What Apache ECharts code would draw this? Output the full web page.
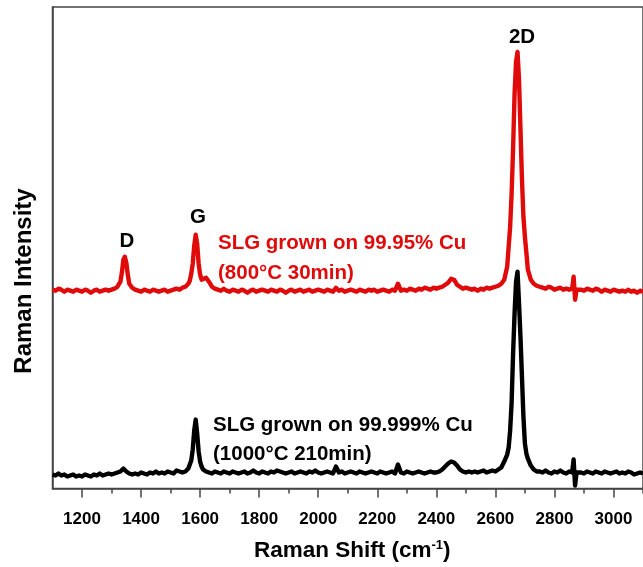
<!DOCTYPE html>
<html>
<head>
<meta charset="utf-8">
<script src="https://cdn.jsdelivr.net/npm/echarts@6/dist/echarts.min.js"></script>
<style>
  html, body { margin: 0; padding: 0; background: #fff; }
  #chart { width: 643px; height: 567px; }
</style>
</head>
<body>
<div id="chart"></div>
<script>
// Raman shift sampling points (cm^-1)
const shift = [
  1100, 1110, 1120, 1130, 1140, 1150, 1160, 1170, 1180, 1190,
  1200, 1210, 1220, 1230, 1240, 1250, 1260, 1270, 1280, 1290,
  1300, 1310, 1320, 1330, 1335, 1340, 1345, 1350, 1355, 1360,
  1370, 1380, 1390, 1400, 1410, 1420, 1430, 1440, 1450, 1460,
  1470, 1480, 1490, 1500, 1510, 1520, 1530, 1540, 1550, 1560,
  1565, 1570, 1575, 1580, 1585, 1590, 1595, 1600, 1605, 1610,
  1620, 1630, 1640, 1650, 1660, 1670, 1680, 1690, 1700, 1710,
  1720, 1730, 1740, 1750, 1760, 1770, 1780, 1790, 1800, 1810,
  1820, 1830, 1840, 1850, 1860, 1870, 1880, 1890, 1900, 1910,
  1920, 1930, 1940, 1950, 1960, 1970, 1980, 1990, 2000, 2010,
  2020, 2030, 2040, 2050, 2060, 2070, 2080, 2090, 2100, 2110,
  2120, 2130, 2140, 2150, 2160, 2170, 2180, 2190, 2200, 2210,
  2220, 2230, 2240, 2250, 2260, 2270, 2280, 2290, 2300, 2310,
  2320, 2330, 2340, 2350, 2360, 2370, 2380, 2390, 2400, 2410,
  2420, 2430, 2440, 2450, 2460, 2470, 2480, 2490, 2500, 2510,
  2520, 2530, 2540, 2550, 2560, 2570, 2580, 2590, 2600, 2610,
  2620, 2630, 2640, 2645, 2650, 2655, 2660, 2665, 2670, 2675,
  2680, 2685, 2690, 2695, 2700, 2705, 2710, 2720, 2730, 2740,
  2750, 2760, 2770, 2780, 2790, 2800, 2810, 2820, 2830, 2840,
  2850, 2860, 2865, 2870, 2875, 2880, 2890, 2900, 2910, 2920,
  2930, 2940, 2950, 2960, 2970, 2980, 2990, 3000, 3010, 3020,
  3030, 3040, 3050, 3060, 3070, 3080, 3090, 3100
];

// SLG grown on 99.999% Cu, 1000°C 210 min (arb. units)
const slgPureCu = [
  14, 13, 15, 13, 14, 12, 13, 14, 12, 13,
  12, 14, 13, 12, 14, 13, 15, 13, 14, 15,
  14, 15, 16, 17, 19, 20, 19, 17, 16, 15,
  14, 15, 14, 16, 15, 14, 16, 15, 17, 15,
  16, 15, 17, 16, 15, 18, 17, 16, 17, 20,
  22, 28, 39, 58, 69, 55, 37, 27, 22, 19,
  17, 16, 15, 17, 16, 15, 17, 16, 15, 17,
  16, 15, 16, 17, 15, 16, 18, 16, 15, 17,
  16, 15, 17, 16, 18, 17, 16, 15, 16, 17,
  15, 16, 17, 16, 15, 17, 16, 18, 16, 15,
  16, 17, 16, 15, 22, 16, 17, 15, 16, 17,
  16, 15, 17, 16, 15, 16, 17, 16, 15, 17,
  16, 15, 16, 17, 15, 24, 16, 15, 17, 16,
  15, 16, 17, 16, 15, 16, 17, 16, 16, 17,
  19, 22, 25, 27, 26, 23, 19, 17, 16, 17,
  16, 17, 16, 17, 18, 16, 17, 18, 17, 19,
  21, 27, 34, 41, 58, 86, 135, 175, 207, 217,
  186, 152, 112, 72, 45, 35, 30, 23, 19, 17,
  17, 16, 18, 16, 15, 17, 16, 18, 16, 15,
  17, 16, 29, 3, 16, 17, 16, 15, 17, 16,
  15, 17, 16, 15, 17, 16, 15, 16, 17, 15,
  16, 15, 17, 16, 14, 15, 16, 15
];

// SLG grown on 99.95% Cu, 800°C 30 min (arb. units, stacked offset)
const slgLowCu = [
  199, 198, 200, 199, 197, 199, 198, 197, 199, 198,
  197, 199, 198, 196, 198, 199, 197, 198, 199, 198,
  199, 200, 202, 207, 216, 229, 232, 226, 214, 205,
  201, 199, 198, 197, 199, 198, 197, 199, 198, 197,
  198, 199, 197, 198, 199, 200, 199, 201, 202, 205,
  208, 215, 225, 243, 254, 245, 225, 214, 209, 208,
  211, 207, 202, 200, 199, 198, 200, 198, 197, 199,
  198, 197, 199, 198, 196, 198, 199, 197, 198, 199,
  198, 197, 199, 198, 197, 199, 198, 196, 198, 199,
  197, 198, 199, 197, 198, 199, 197, 198, 199, 198,
  197, 199, 198, 197, 201, 198, 199, 197, 198, 199,
  198, 197, 199, 198, 197, 199, 198, 199, 197, 198,
  199, 198, 197, 199, 198, 205, 198, 199, 198, 200,
  199, 198, 200, 199, 201, 200, 199, 201, 200, 201,
  202, 204, 206, 210, 209, 204, 202, 200, 201, 200,
  199, 200, 198, 200, 199, 201, 200, 201, 202, 203,
  205, 209, 222, 242, 262, 295, 340, 395, 427, 437,
  410, 360, 310, 272, 252, 236, 219, 209, 205, 203,
  202, 201, 200, 202, 201, 199, 200, 201, 199, 200,
  199, 200, 212, 189, 199, 200, 199, 198, 200, 199,
  198, 200, 199, 197, 199, 198, 197, 199, 198, 197,
  198, 197, 199, 197, 198, 196, 198, 197
];

// Axis ticks
const majorTicks = [1200, 1400, 1600, 1800, 2000, 2200, 2400, 2600, 2800, 3000];
const minorTicks = [1300, 1500, 1700, 1900, 2100, 2300, 2500, 2700, 2900, 3100];

// Peak labels and sample descriptions
const peakNames = ['D', 'G', '2D'];
const lowCuLines = ['SLG grown on 99.95% Cu', '(800°C 30min)'];
const pureCuLines = ['SLG grown on 99.999% Cu', '(1000°C 210min)'];

const FONT = '"Liberation Sans", Arial, Helvetica, sans-serif';
const RED = '#e10a0a';
const AXIS = '#444';

const toPairs = (ys) => shift.map((x, i) => [x, ys[i]]);

const chart = echarts.init(document.getElementById('chart'), null, { renderer: 'canvas' });

// Bold text element placed in pixel space
const label = (text, x, y, size, color, align, rotation) => ({
  type: 'text',
  x: x, y: y,
  rotation: rotation || 0,
  style: {
    text: text,
    fill: color,
    font: 'bold ' + size + 'px ' + FONT,
    textAlign: align || 'left',
    textVerticalAlign: 'middle'
  },
  z: 100
});

chart.setOption({
  animation: false,
  backgroundColor: '#fff',
  grid: {
    left: 52.5, top: 7, right: -2.5, bottom: 78,
    show: true, borderColor: AXIS, borderWidth: 1.5, backgroundColor: 'transparent'
  },
  xAxis: [
    {
      type: 'value', min: 1100, max: 3100, position: 'bottom',
      axisLine: { show: true, onZero: false, lineStyle: { color: AXIS, width: 1.5 } },
      axisTick: { show: true, inside: false, length: 9, customValues: majorTicks,
                  lineStyle: { color: AXIS, width: 1.5 } },
      axisLabel: { show: true, customValues: majorTicks, margin: 14,
                   padding: [8, 0, 0, 0],
                   formatter: (v) => String(v),
                   color: '#000', fontFamily: FONT, fontWeight: 'bold', fontSize: 17 },
      splitLine: { show: false },
      name: 'Raman Shift (cm{sup|-1})',
      nameLocation: 'middle', nameGap: 50,
      nameTextStyle: {
        color: '#000', fontFamily: FONT, fontWeight: 'bold', fontSize: 22.5,
        padding: [0, 0, 0, 9],
        rich: {
          sup: { fontFamily: FONT, fontWeight: 'bold', fontSize: 13, color: '#000',
                 padding: [0, 0, 11, 0] }
        }
      }
    },
    {
      type: 'value', min: 1100, max: 3100, position: 'bottom',
      axisLine: { show: false },
      axisTick: { show: true, inside: false, length: 5, customValues: minorTicks,
                  lineStyle: { color: AXIS, width: 1.5 } },
      axisLabel: { show: false },
      splitLine: { show: false }
    }
  ],
  yAxis: {
    type: 'value', min: 0, max: 482,
    axisLine: { show: true, lineStyle: { color: AXIS, width: 1.5 } },
    axisTick: { show: false },
    axisLabel: { show: false },
    splitLine: { show: false }
  },
  series: [
    {
      name: 'SLG 99.95% Cu', type: 'line', xAxisIndex: 0,
      data: toPairs(slgLowCu), showSymbol: false, symbol: 'none',
      lineStyle: { color: RED, width: 4.4, join: 'round' }, z: 2
    },
    {
      name: 'SLG 99.999% Cu', type: 'line', xAxisIndex: 0,
      data: toPairs(slgPureCu), showSymbol: false, symbol: 'none',
      lineStyle: { color: '#000', width: 4.4, join: 'round' }, z: 3
    }
  ],
  graphic: [
    label('Raman Intensity', 24, 281, 24, '#000', 'center', Math.PI / 2),
    label(peakNames[0], 127, 241, 20.5, '#000', 'center'),
    label(peakNames[1], 198, 217, 20.5, '#000', 'center'),
    label(peakNames[2], 522, 37, 20.5, '#000', 'center'),
    label(lowCuLines[0], 218, 243, 20.5, RED),
    label(lowCuLines[1], 218, 273, 20.5, RED),
    label(pureCuLines[0], 213, 425, 20.5, '#000'),
    label(pureCuLines[1], 213, 454, 20.5, '#000')
  ]
});
</script>
</body>
</html>
